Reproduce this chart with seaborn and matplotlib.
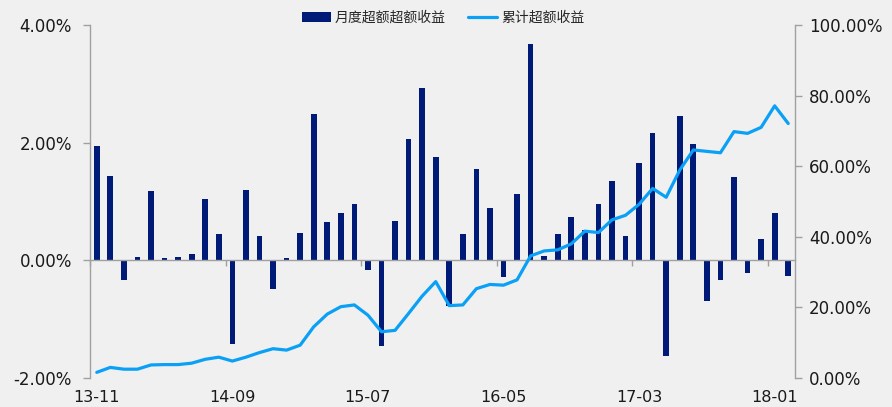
import matplotlib
matplotlib.use("Agg")
import matplotlib.pyplot as plt
import matplotlib.ticker as mticker
import numpy as np
import pandas as pd
import seaborn as sns

# 月份标签 (13-11 ... 18-02)
months = list(pd.period_range("2013-11", periods=52, freq="M").strftime("%y-%m"))

# 月度超额超额收益 (%)
monthly_excess = [1.94, 1.43, -0.33, 0.06, 1.18, 0.04, 0.06, 0.10, 1.04, 0.45,
                  -1.42, 1.20, 0.41, -0.48, 0.04, 0.47, 2.48, 0.65, 0.80, 0.95,
                  -0.16, -1.46, 0.67, 2.07, 2.93, 1.76, -0.78, 0.45, 1.56, 0.89,
                  -0.29, 1.13, 3.68, 0.07, 0.45, 0.74, 0.52, 0.95, 1.35, 0.41,
                  1.65, 2.16, -1.62, 2.45, 1.98, -0.69, -0.33, 1.41, -0.22, 0.37,
                  0.80, -0.27]

# 累计超额收益 (%)
cumulative_excess = [1.6, 3.0, 2.5, 2.5, 3.7, 3.8, 3.8, 4.2, 5.3, 5.9,
                     4.8, 5.9, 7.2, 8.3, 7.9, 9.3, 14.5, 18.1, 20.2, 20.7,
                     17.8, 13.1, 13.5, 18.3, 23.2, 27.3, 20.5, 20.7, 25.3, 26.5,
                     26.3, 27.8, 34.6, 36.0, 36.3, 38.0, 41.6, 41.2, 44.8, 46.1,
                     49.2, 53.7, 51.2, 58.9, 64.6, 64.2, 63.8, 69.8, 69.3, 71.0,
                     77.1, 72.1]

df = pd.DataFrame({"month": months, "monthly": monthly_excess,
                   "cum": cumulative_excess})

bg = "#f0f0f0"
bar_color = "#001a78"
line_color = "#0aa0f5"
axis_gray = "#a0a0a0"
text_color = "#1a1a1a"

sns.set_style("white")
plt.rcParams["font.family"] = ["DejaVu Sans", "Noto Sans CJK SC"]

fig = plt.figure(figsize=(8.92, 4.07), dpi=100, facecolor=bg)
ax = fig.add_axes([90 / 892, 1 - 378 / 407, (795 - 90) / 892, (378 - 25) / 407])
ax.set_facecolor(bg)

sns.barplot(data=df, x="month", y="monthly", color=bar_color, width=0.42,
            saturation=1, linewidth=0, ax=ax, label="月度超额超额收益")

ax2 = ax.twinx()
sns.lineplot(x=np.arange(len(df)), y=df["cum"], color=line_color, lw=2.3,
             ax=ax2, label="累计超额收益")

# 左轴
ax.set_ylim(-2, 4)
ax.set_yticks([-2, 0, 2, 4])
ax.yaxis.set_major_formatter(mticker.FuncFormatter(lambda v, p: f"{v:.2f}%"))
ax.set_xlim(-0.5, len(df) - 0.5)
ax.set_xlabel("")
ax.set_ylabel("")

# 右轴
ax2.set_ylim(0, 100)
ax2.set_yticks(np.arange(0, 101, 20))
ax2.yaxis.set_major_formatter(mticker.FuncFormatter(lambda v, p: f"{v:.2f}%"))
ax2.set_ylabel("")

# x 轴: 在 0 处画轴线, 刻度在类别之间, 标签放在底部
ax.spines["bottom"].set_position(("data", 0))
ax.set_xticks(np.arange(0, len(df), 10))
ax.set_xticklabels([months[i] for i in range(0, len(df), 10)])
ax.set_xticks(np.arange(-0.5, len(df), 10), minor=True)
ax.tick_params(axis="x", which="major", length=0, pad=93, labelsize=11.5,
               labelcolor=text_color)
ax.tick_params(axis="x", which="minor", length=4, width=1, color=axis_gray,
               direction="out", bottom=True)
ax.tick_params(axis="y", length=5, width=1, color=axis_gray, left=True,
               labelsize=12, labelcolor=text_color, pad=8)
ax2.tick_params(axis="y", length=5, width=1, color=axis_gray, right=True,
                labelsize=12, labelcolor=text_color, pad=5)

for a in (ax, ax2):
    for s in a.spines.values():
        s.set_color(axis_gray)
        s.set_linewidth(1)
    a.spines["top"].set_visible(False)
ax2.spines["bottom"].set_visible(False)
ax2.spines["left"].set_visible(False)
ax.spines["right"].set_visible(False)

# 图例
h1, l1 = ax.get_legend_handles_labels()
h2, l2 = ax2.get_legend_handles_labels()
for a in (ax, ax2):
    if a.get_legend() is not None:
        a.get_legend().remove()
fig.legend(h1 + h2, l1 + l2, loc="center", bbox_to_anchor=(0.497, 0.956),
           ncol=2, frameon=False, handlelength=2.1,
           handleheight=0.65, handletextpad=0.3, columnspacing=1.6,
           prop={"family": ["Noto Sans CJK SC", "DejaVu Sans"], "size": 10})

fig.savefig("out.png", dpi=100, facecolor=bg)
